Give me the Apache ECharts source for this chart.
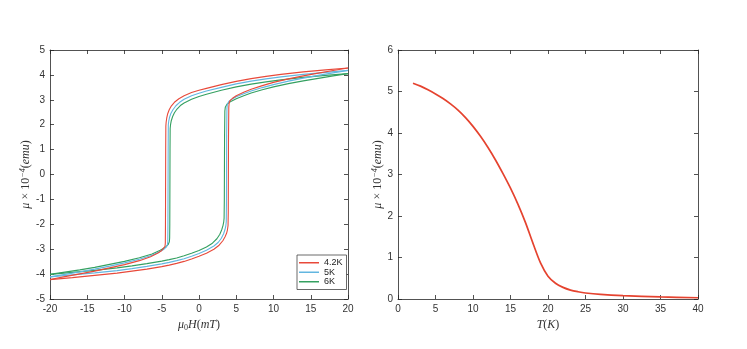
<!DOCTYPE html>
<html><head><meta charset="utf-8">
<script src="https://cdn.jsdelivr.net/npm/echarts@6/dist/echarts.min.js"></script>
<style>html,body{margin:0;padding:0;background:#fff}#c{width:747px;height:349px}</style>
</head><body><div id="c"></div>
<script>
// Hysteresis loops: descending (down) and ascending (up) branches, field in mT, moment in 1e-4 emu
const hDown42 = [20,17,14,11,9,7,5,3,1,0,-1,-2,-2.7,-3.3,-3.7,-4.0,-4.2,-4.33,-4.41,-4.45,-4.47,-4.5,-4.52,-4.56,-4.7,-5,-5.5,-6.5,-8,-10,-12,-14,-16,-18,-20];
const mDown42 = [4.28,4.2,4.12,4.02,3.94,3.85,3.74,3.61,3.46,3.38,3.29,3.16,3.04,2.9,2.76,2.6,2.44,2.27,2.1,1.95,1.0,-2.0,-2.75,-2.88,-2.96,-3.05,-3.15,-3.3,-3.46,-3.62,-3.75,-3.88,-3.99,-4.1,-4.22];
const hUp42 = [-20,-17,-14,-11,-9,-7,-5,-4,-3,-2,-1,0,1,2,2.7,3.2,3.5,3.7,3.82,3.9,3.93,3.96,4.0,4.05,4.2,4.5,5,6,7,8.5,10,12,14,16,18,20];
const mUp42 = [-4.22,-4.14,-4.05,-3.96,-3.88,-3.8,-3.7,-3.64,-3.57,-3.49,-3.39,-3.28,-3.16,-3.0,-2.84,-2.66,-2.5,-2.36,-2.22,-2.05,-1.5,1.5,2.7,2.88,2.98,3.06,3.16,3.3,3.42,3.57,3.7,3.84,3.96,4.07,4.18,4.28];

const hDown5 = [20,17,14,11,9,7,5,3,1,0,-1,-2,-2.6,-3.1,-3.5,-3.78,-3.95,-4.06,-4.12,-4.14,-4.17,-4.19,-4.24,-4.4,-4.7,-5.3,-6.3,-8,-10,-12,-14,-16,-18,-20];
const mDown5 = [4.18,4.1,4.02,3.92,3.84,3.75,3.64,3.5,3.35,3.26,3.16,3.02,2.9,2.76,2.6,2.45,2.3,2.14,2.0,1.0,-2.0,-2.68,-2.82,-2.92,-3.0,-3.1,-3.24,-3.4,-3.55,-3.68,-3.8,-3.91,-4.01,-4.11];
const hUp5 = [-20,-17,-14,-11,-9,-7,-5,-4,-3,-2,-1,0,1,2,2.6,3.0,3.3,3.48,3.6,3.66,3.69,3.71,3.75,3.8,4.0,4.4,5,6,7,8.5,10,12,14,16,18,20];
const mUp5 = [-4.11,-4.03,-3.95,-3.86,-3.78,-3.69,-3.59,-3.53,-3.46,-3.38,-3.28,-3.17,-3.04,-2.87,-2.72,-2.56,-2.38,-2.22,-2.06,-1.9,-1.0,1.5,2.65,2.82,2.93,3.02,3.12,3.24,3.35,3.49,3.61,3.75,3.87,3.98,4.08,4.18];

const hDown6 = [20,17,14,11,9,7,5,3,1,0,-1,-2,-2.5,-2.95,-3.3,-3.55,-3.72,-3.82,-3.87,-3.89,-3.92,-3.94,-3.98,-4.15,-4.5,-5.2,-6.3,-8,-10,-12,-14,-16,-18,-20];
const mDown6 = [4.05,3.98,3.9,3.8,3.72,3.63,3.52,3.38,3.22,3.13,3.02,2.87,2.77,2.63,2.48,2.32,2.16,2.0,1.85,1.0,-2.0,-2.55,-2.7,-2.82,-2.92,-3.04,-3.19,-3.34,-3.49,-3.61,-3.73,-3.83,-3.92,-4.01];
const hUp6 = [-20,-17,-14,-11,-9,-7,-5,-4,-3,-2,-1,0,1,1.8,2.4,2.8,3.05,3.22,3.32,3.37,3.4,3.43,3.47,3.53,3.75,4.2,5,6,7,8.5,10,12,14,16,18,20];
const mUp6 = [-4.01,-3.93,-3.85,-3.75,-3.67,-3.58,-3.48,-3.42,-3.35,-3.26,-3.16,-3.05,-2.91,-2.76,-2.58,-2.4,-2.22,-2.05,-1.9,-1.75,-1.0,1.5,2.55,2.7,2.82,2.92,3.04,3.16,3.27,3.4,3.52,3.65,3.76,3.86,3.96,4.05];

// Magnetic moment vs temperature
const tempK = [2,3,4,5,6,7,8,9,10,11,12,13,14,15,16,17,18,19,20,21,22,23,24,25,27,30,35,40];
const momentT = [5.2,5.13,5.04,4.94,4.83,4.7,4.55,4.37,4.16,3.92,3.65,3.35,3.02,2.67,2.28,1.84,1.34,0.87,0.55,0.38,0.28,0.215,0.175,0.145,0.11,0.08,0.05,0.03];

const xTicksLeft = [-20,20,5];
const yTicksLeft = [-5,5,1];
const xTicksRight = [0,40,5];
const yTicksRight = [0,6,1];

const tempNames = ['4.2K','5K','6K'];
const colors = ['#e8493a','#62b6e0','#34a060'];

function pairs(h,m){return h.map((v,i)=>[v,m[i]]);}

const axisColor = '#262626';
const labelStyle = {color:'#333', fontFamily:'Liberation Sans', fontSize:10};
const nameRich = {
  it:{fontFamily:'Liberation Serif', fontStyle:'italic', fontSize:12, color:'#333'},
  n:{fontFamily:'Liberation Serif', fontSize:12, color:'#333'},
  sup:{fontFamily:'Liberation Serif', fontStyle:'italic', fontSize:8, color:'#333', verticalAlign:'top', padding:[0,0,6,0]},
  sub:{fontFamily:'Liberation Serif', fontSize:8, color:'#333', padding:[6,0,0,0]}
};

function xAx(idx, r, name, pos, show){
  return {type:'value', gridIndex:idx, min:r[0], max:r[1], interval:r[2], position:pos,
    name: show?name:'', nameLocation:'middle', nameGap:17,
    nameTextStyle:{rich:nameRich},
    axisLine:{show:true, onZero:false, lineStyle:{color:axisColor, width:0.8}},
    axisTick:{show:true, inside:true, length:4, lineStyle:{color:axisColor, width:0.8}},
    axisLabel:Object.assign({show:show, margin:5}, labelStyle),
    splitLine:{show:false}};
}
function yAx(idx, r, name, pos, show, gap){
  return {type:'value', gridIndex:idx, min:r[0], max:r[1], interval:r[2], position:pos,
    name: show?name:'', nameLocation:'middle', nameGap:gap, nameRotate:90,
    nameTextStyle:{rich:nameRich},
    axisLine:{show:true, onZero:false, lineStyle:{color:axisColor, width:0.8}},
    axisTick:{show:true, inside:true, length:4, lineStyle:{color:axisColor, width:0.8}},
    axisLabel:Object.assign({show:show, margin:5}, labelStyle),
    splitLine:{show:false}};
}

const yName = '{it|μ} {n|× 10}{sup|−4}{n|(}{it|emu}{n|)}';
const series = [];
const loops = [[hDown42,mDown42,hUp42,mUp42],[hDown5,mDown5,hUp5,mUp5],[hDown6,mDown6,hUp6,mUp6]];
loops.forEach((l,i)=>{
  [[l[0],l[1]],[l[2],l[3]]].forEach(b=>{
    series.push({type:'line', name:tempNames[i], xAxisIndex:0, yAxisIndex:0,
      data:pairs(b[0],b[1]), showSymbol:false, symbol:'none', smooth:false,
      lineStyle:{color:colors[i], width:1.1}, itemStyle:{color:colors[i]}, z:3-i});
  });
});
series.push({type:'line', xAxisIndex:2, yAxisIndex:2, data:pairs(tempK,momentT),
  showSymbol:false, symbol:'none', smooth:0.3, lineStyle:{color:'#e5432f', width:1.7}});

const chart = echarts.init(document.getElementById('c'), null, {renderer:'canvas'});
chart.setOption({
  animation:false,
  backgroundColor:'#fff',
  grid:[
    {left:50, top:50, width:298, height:249, show:false},
    {left:50, top:50, width:298, height:249, show:false},
    {left:398, top:50, width:300, height:249, show:false},
    {left:398, top:50, width:300, height:249, show:false}
  ],
  xAxis:[
    xAx(0, xTicksLeft, '{it|μ}{sub|0}{it|H}{n|(}{it|mT}{n|)}', 'bottom', true),
    xAx(1, xTicksLeft, '', 'top', false),
    xAx(2, xTicksRight, '{it|T}{n|(}{it|K}{n|)}', 'bottom', true),
    xAx(3, xTicksRight, '', 'top', false)
  ],
  yAxis:[
    yAx(0, yTicksLeft, yName, 'left', true, 13),
    yAx(1, yTicksLeft, '', 'right', false, 0),
    yAx(2, yTicksRight, yName, 'left', true, 10),
    yAx(3, yTicksRight, '', 'right', false, 0)
  ],
  legend:{
    data:tempNames, orient:'vertical', left:297, top:255,
    icon:'rect', itemWidth:20, itemHeight:1.5, itemGap:0,
    padding:[3,4,3,2],
    borderColor:'#444', borderWidth:0.8, backgroundColor:'#fff',
    textStyle:{fontFamily:'Liberation Sans', fontSize:9, lineHeight:9.5, color:'#222'}
  },
  series:series
});
</script></body></html>
